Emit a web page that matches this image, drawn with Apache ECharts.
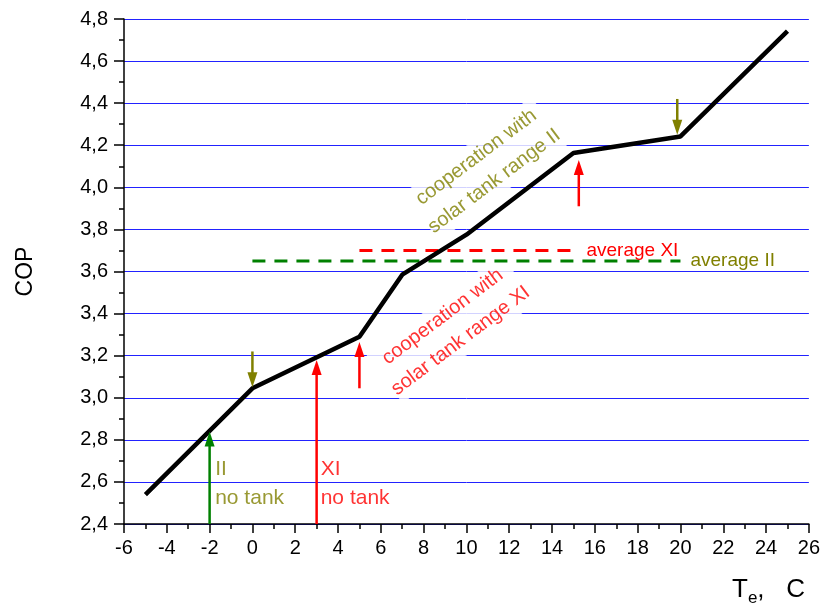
<!DOCTYPE html>
<html><head><meta charset="utf-8">
<script src="https://cdn.jsdelivr.net/npm/echarts@6/dist/echarts.min.js"></script>
<style>html,body{margin:0;padding:0;background:#fff}#c{width:823px;height:609px}</style>
</head><body><div id="c"></div>
<script>
// ---- data ----
const copTemp  = [-5, 0, 5, 7, 10, 15, 20, 25];
const copValue = [2.54, 3.045, 3.29, 3.585, 3.775, 4.163, 4.242, 4.742];

const avgXiX = [5, 15];
const avgXiY = 3.70;
const avgIiX = [0, 20];
const avgIiY = 3.65;

const arrowX     = [-2, 3, 5, 15.25, 0, 19.85];
const arrowFrom  = [2.4, 2.4, 3.045, 3.91, 3.22, 4.42];
const arrowTo    = [2.84, 3.18, 3.265, 4.13, 3.05, 4.25];
const arrowGroup = [0, 1, 1, 1, 2, 2]; // 0 green, 1 red, 2 olive

const noteX    = [-1.74, 3.19, 10.88, 9.31];
const noteY    = [2.593, 2.593, 4.086, 3.328];
const noteText = ['II\nno tank', 'XI\nno tank', 'cooperation with\nsolar tank range II', 'cooperation with\nsolar tank range XI'];
const noteRot  = [0, 0, 37, 37];
const noteGroup= [2, 1, 2, 1];

const xTickValues = [-6,-4,-2,0,2,4,6,8,10,12,14,16,18,20,22,24,26];
const yTickLabels = ['2,4','2,6','2,8','3,0','3,2','3,4','3,6','3,8','4,0','4,2','4,4','4,6','4,8'];

// ---- style ----
const COLORS = ['#008000', '#ff0000', '#808000'];
const FONT = 'Liberation Sans, Arial, sans-serif';

const chart = echarts.init(document.getElementById('c'), null, {renderer: 'canvas'});

const arrowData = arrowX.map((x, i) => [x, arrowFrom[i], arrowTo[i], arrowGroup[i]]);
const noteData = noteX.map((x, i) => ({
  value: [x, noteY[i]],
  label: {
    show: true,
    formatter: noteText[i],
    position: [0, 0],
    align: noteRot[i] ? 'center' : 'left',
    verticalAlign: 'middle',
    rotate: noteRot[i],
    color: COLORS[noteGroup[i]],
    fontSize: noteRot[i] ? 20 : 21,
    fontFamily: FONT,
    lineHeight: noteRot[i] ? 30 : 29,
    backgroundColor: noteRot[i] ? '#fff' : 'transparent'
  }
}));

const option = {
  animation: false,
  backgroundColor: '#fff',
  grid: {left: 124, right: 12, top: 19, bottom: 85, containLabel: false},
  xAxis: {
    type: 'value', min: -6, max: 26, interval: 2,
    axisLine: {show: true, onZero: false, lineStyle: {color: '#000', width: 1.5}},
    axisTick: {show: true, inside: false, length: 9, lineStyle: {color: '#000', width: 1.5}},
    minorTick: {show: true, splitNumber: 2, length: 5, lineStyle: {color: '#000', width: 1.5}},
    splitLine: {show: false},
    axisLabel: {
      color: '#000', fontSize: 20, fontFamily: FONT, margin: 14,
      formatter: v => { const i = xTickValues.indexOf(Math.round(v)); return i >= 0 ? String(xTickValues[i]) : ''; }
    }
  },
  yAxis: {
    type: 'value', min: 2.4, max: 4.8, interval: 0.2,
    name: 'COP', nameLocation: 'middle', nameGap: 87,
    nameTextStyle: {color: '#000', fontSize: 23, fontFamily: FONT},
    axisLine: {show: true, onZero: false, lineStyle: {color: '#000', width: 1.5}},
    axisTick: {show: true, inside: false, length: 10, lineStyle: {color: '#000', width: 1.5}},
    minorTick: {show: true, splitNumber: 2, length: 5, lineStyle: {color: '#000', width: 1.5}},
    splitLine: {show: true, lineStyle: {color: '#2222ff', width: 1}},
    axisLabel: {
      color: '#000', fontSize: 20, fontFamily: FONT, margin: 16,
      formatter: v => { const i = Math.round((v - 2.4) / 0.2); return yTickLabels[i] || ''; }
    }
  },
  graphic: [{
    type: 'text', left: 732, top: 577,
    style: {
      text: '{a|T}{b|e}{a|,   C}',
      rich: {
        a: {fontSize: 26, fontFamily: FONT, fill: '#000'},
        b: {fontSize: 17, fontFamily: FONT, fill: '#000', padding: [16, 0, 0, 0]}
      }
    }
  }],
  series: [
    {
      type: 'scatter', z: 2, symbolSize: 0, silent: true,
      data: noteData
    },
    {
      type: 'line', z: 4, symbol: 'none',
      data: copTemp.map((x, i) => [x, copValue[i]]),
      lineStyle: {color: '#000', width: 4.5}
    },
    {
      type: 'line', z: 3, symbol: 'none',
      data: avgXiX.map(x => [x, avgXiY]),
      lineStyle: {color: '#ff0000', width: 3, type: [13, 9]},
      endLabel: {show: true, formatter: 'average XI', color: '#ff0000', fontSize: 19, fontFamily: FONT, distance: 13}
    },
    {
      type: 'line', z: 3, symbol: 'none',
      data: avgIiX.map(x => [x, avgIiY]),
      lineStyle: {color: '#008000', width: 3, type: [13, 9]},
      endLabel: {show: true, formatter: 'average II', color: '#808000', fontSize: 19, fontFamily: FONT, distance: 10}
    },
    {
      type: 'custom', z: 5, silent: true,
      data: arrowData,
      encode: {x: 0, y: [1, 2]},
      renderItem: function (params, api) {
        const x = api.value(0), y0 = api.value(1), y1 = api.value(2);
        const col = COLORS[api.value(3)];
        const p0 = api.coord([x, y0]), p1 = api.coord([x, y1]);
        const dir = p1[1] < p0[1] ? -1 : 1;
        const headLen = 15, headW = 5;
        const baseY = p1[1] - dir * headLen;
        return {
          type: 'group',
          children: [
            {type: 'line', shape: {x1: p0[0], y1: p0[1], x2: p1[0], y2: baseY + dir * 2}, style: {stroke: col, lineWidth: 2.5}},
            {type: 'polygon', shape: {points: [[p1[0], p1[1]], [p1[0] - headW, baseY], [p1[0] + headW, baseY]]}, style: {fill: col}}
          ]
        };
      }
    }
  ]
};
chart.setOption(option);
</script>
</body></html>
